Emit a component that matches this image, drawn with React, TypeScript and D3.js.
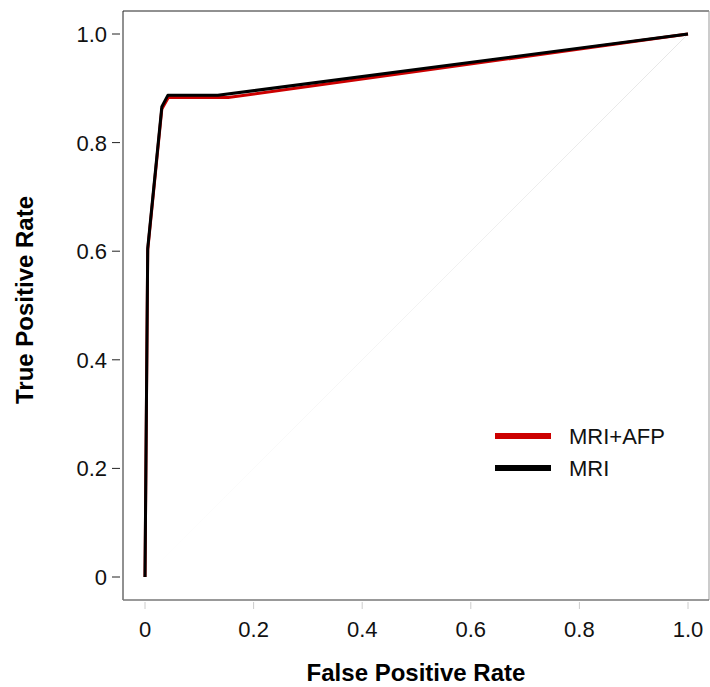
import React, { useEffect, useRef } from "react";
import * as d3 from "d3";

// ROC points: [false positive rate, true positive rate]
const fprMriAfp = [0, 0.005, 0.031, 0.043, 0.153, 1];
const tprMriAfp = [0, 0.602, 0.862, 0.883, 0.883, 1];
const fprMri = [0, 0.005, 0.031, 0.042, 0.134, 1];
const tprMri = [0, 0.605, 0.866, 0.887, 0.887, 1];

const seriesNames = ["MRI+AFP", "MRI"];
const seriesColors = ["#cc0000", "#000000"];

const xTicks = [0, 0.2, 0.4, 0.6, 0.8, 1];
const xTickLabels = ["0", "0.2", "0.4", "0.6", "0.8", "1.0"];
const yTicks = [0, 0.2, 0.4, 0.6, 0.8, 1];
const yTickLabels = ["0", "0.2", "0.4", "0.6", "0.8", "1.0"];

function App() {
  const ref = useRef<SVGSVGElement>(null);

  useEffect(() => {
    const svg = d3.select(ref.current);
    svg.selectAll("*").remove();

    const font = "Liberation Sans, Arial, sans-serif";
    const box = { left: 123, top: 11, right: 709, bottom: 600 };

    const x = d3.scaleLinear().domain([0, 1]).range([145, 688]);
    const y = d3.scaleLinear().domain([0, 1]).range([577, 34]);

    // faint diagonal reference line
    const defs = svg.append("defs");
    const grad = defs.append("linearGradient")
      .attr("id", "diag")
      .attr("gradientUnits", "userSpaceOnUse")
      .attr("x1", x(0)).attr("y1", y(0))
      .attr("x2", x(1)).attr("y2", y(1));
    grad.append("stop").attr("offset", "0").attr("stop-color", "#ffffff");
    grad.append("stop").attr("offset", "1").attr("stop-color", "#e6e6e6");
    svg.append("line")
      .attr("x1", x(0)).attr("y1", y(0))
      .attr("x2", x(1)).attr("y2", y(1))
      .attr("stroke", "url(#diag)")
      .attr("stroke-width", 1);

    // plot frame: left/top dark, right/bottom grey
    svg.append("line").attr("x1", box.left).attr("x2", box.right).attr("y1", box.top).attr("y2", box.top)
      .attr("stroke", "#222").attr("stroke-width", 1);
    svg.append("line").attr("x1", box.left).attr("x2", box.left).attr("y1", box.top).attr("y2", box.bottom)
      .attr("stroke", "#222").attr("stroke-width", 1);
    svg.append("line").attr("x1", box.right).attr("x2", box.right).attr("y1", box.top).attr("y2", box.bottom)
      .attr("stroke", "#999").attr("stroke-width", 1);
    svg.append("line").attr("x1", box.left).attr("x2", box.right).attr("y1", box.bottom).attr("y2", box.bottom)
      .attr("stroke", "#777").attr("stroke-width", 1.5);

    // y axis ticks
    const yAxis = svg.append("g");
    yTicks.forEach((t, i) => {
      yAxis.append("line")
        .attr("x1", 112).attr("x2", 120)
        .attr("y1", y(t)).attr("y2", y(t))
        .attr("stroke", "#222");
      yAxis.append("text")
        .attr("x", 107).attr("y", y(t))
        .attr("dy", "0.36em")
        .attr("text-anchor", "end")
        .style("font-family", font)
        .style("font-size", "22px")
        .attr("fill", "#111")
        .text(yTickLabels[i]);
    });

    // x axis ticks
    const xAxis = svg.append("g");
    xTicks.forEach((t, i) => {
      xAxis.append("line")
        .attr("x1", x(t)).attr("x2", x(t))
        .attr("y1", 602).attr("y2", 609)
        .attr("stroke", "#ccc");
      xAxis.append("text")
        .attr("x", x(t)).attr("y", 637)
        .attr("text-anchor", "middle")
        .style("font-family", font)
        .style("font-size", "22px")
        .attr("fill", "#111")
        .text(xTickLabels[i]);
    });

    // axis titles
    svg.append("text")
      .attr("x", 416).attr("y", 681)
      .attr("text-anchor", "middle")
      .style("font-family", font)
      .style("font-size", "24px")
      .style("font-weight", "bold")
      .text("False Positive Rate");
    svg.append("text")
      .attr("transform", `translate(33,300) rotate(-90)`)
      .attr("text-anchor", "middle")
      .style("font-family", font)
      .style("font-size", "24px")
      .style("font-weight", "bold")
      .text("True Positive Rate");

    // ROC curves
    const line = d3.line<[number, number]>()
      .x(d => x(d[0]))
      .y(d => y(d[1]));
    const series = [
      fprMriAfp.map((f, i) => [f, tprMriAfp[i]] as [number, number]),
      fprMri.map((f, i) => [f, tprMri[i]] as [number, number])
    ];
    series.forEach((pts, i) => {
      svg.append("path")
        .datum(pts)
        .attr("d", line)
        .attr("fill", "none")
        .attr("stroke", seriesColors[i])
        .attr("stroke-width", 3)
        .attr("stroke-linejoin", "round");
    });

    // legend
    const legend = svg.append("g");
    seriesNames.forEach((name, i) => {
      const ly = 436 + i * 32;
      legend.append("line")
        .attr("x1", 495).attr("x2", 551)
        .attr("y1", ly).attr("y2", ly)
        .attr("stroke", seriesColors[i])
        .attr("stroke-width", 6);
      legend.append("text")
        .attr("x", 569).attr("y", ly)
        .attr("dy", "0.36em")
        .style("font-family", font)
        .style("font-size", "22px")
        .attr("fill", "#111")
        .text(name);
    });
  }, []);

  return (
    <svg
      ref={ref}
      width={710}
      height={687}
      style={{ position: "absolute", left: 0, top: 0, background: "#fff" }}
    />
  );
}

export default App;
